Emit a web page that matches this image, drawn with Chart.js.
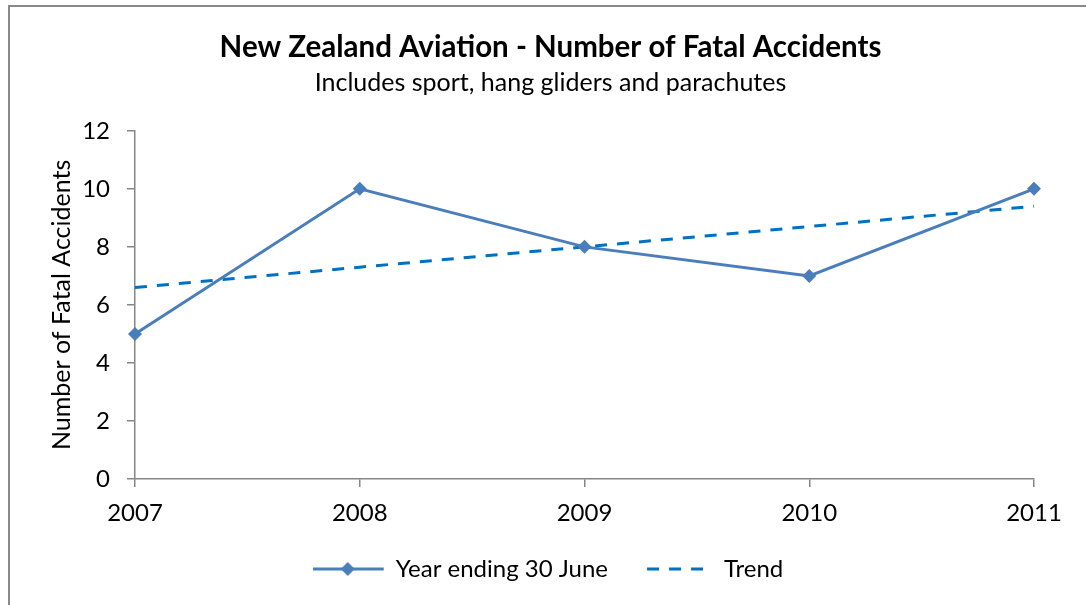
<!DOCTYPE html>
<html>
<head>
<meta charset="utf-8">
<script src="https://cdn.jsdelivr.net/npm/chart.js@4/dist/chart.umd.min.js"></script>
<style>
  html, body { margin: 0; padding: 0; background: #ffffff; }
  #wrap { width: 1086px; height: 605px; position: relative; }
</style>
</head>
<body>
<div id="wrap"><canvas id="c" width="1086" height="605"></canvas></div>
<script>
// ---- data ----
const years = ['2007', '2008', '2009', '2010', '2011'];
const fatalAccidents = [5, 10, 8, 7, 10];
const trendValues = [6.6, 7.3, 8.0, 8.7, 9.4];
const seriesNames = ['Year ending 30 June', 'Trend'];
const titleText = 'New Zealand Aviation - Number of Fatal Accidents';
const subtitleText = 'Includes sport, hang gliders and parachutes';
const yAxisTitle = 'Number of Fatal Accidents';

const FONT = 'Lato, Carlito, "Open Sans", sans-serif';
const SERIES_COLOR = '#4A7EBB';
const TREND_COLOR = '#0070C0';
const AXIS_COLOR = '#868686';

// legend swatch images
function makeLineSwatch() {
  const c = document.createElement('canvas');
  c.width = 76; c.height = 16;
  const g = c.getContext('2d');
  g.strokeStyle = SERIES_COLOR; g.lineWidth = 3;
  g.beginPath(); g.moveTo(0, 8); g.lineTo(71, 8); g.stroke();
  g.fillStyle = SERIES_COLOR;
  g.beginPath(); g.moveTo(35, 1); g.lineTo(42, 8); g.lineTo(35, 15); g.lineTo(28, 8); g.closePath(); g.fill();
  return c;
}
function makeDashSwatch() {
  const c = document.createElement('canvas');
  c.width = 76; c.height = 16;
  const g = c.getContext('2d');
  g.strokeStyle = TREND_COLOR; g.lineWidth = 3;
  g.setLineDash([12, 10]);
  g.beginPath(); g.moveTo(6, 8); g.lineTo(63, 8); g.stroke();
  return c;
}
const swatches = [makeLineSwatch(), makeDashSwatch()];
const legendGap = ['\u2002', ''];

const frame = {
  id: 'frame',
  beforeDraw(chart) {
    const ctx = chart.ctx;
    ctx.save();
    ctx.fillStyle = '#ffffff';
    ctx.fillRect(0, 0, chart.width, chart.height);
    ctx.strokeStyle = '#898989';
    ctx.lineWidth = 2;
    ctx.beginPath();
    ctx.moveTo(9, chart.height);
    ctx.lineTo(9, 6);
    ctx.lineTo(chart.width, 6);
    ctx.stroke();
    ctx.restore();
  }
};

new Chart(document.getElementById('c'), {
  type: 'line',
  data: {
    labels: years,
    datasets: [
      {
        label: seriesNames[0],
        data: fatalAccidents,
        borderColor: SERIES_COLOR,
        backgroundColor: SERIES_COLOR,
        borderWidth: 3,
        pointStyle: 'rectRot',
        pointRadius: 7,
        pointBorderWidth: 0,
        pointBackgroundColor: SERIES_COLOR,
        tension: 0,
        order: 1
      },
      {
        label: seriesNames[1],
        data: trendValues,
        borderColor: TREND_COLOR,
        backgroundColor: TREND_COLOR,
        borderWidth: 3,
        borderDash: [12, 10],
        pointRadius: 0,
        tension: 0,
        order: 2
      }
    ]
  },
  options: {
    responsive: false,
    animation: false,
    devicePixelRatio: 1,
    layout: { padding: { left: 67, right: 52, top: 0, bottom: 14 } },
    plugins: {
      title: {
        display: true,
        text: titleText,
        color: '#000000',
        font: { family: FONT, size: 29.5, weight: 'bold', lineHeight: 1.2 },
        padding: { top: 30, bottom: 2 }
      },
      subtitle: {
        display: true,
        text: subtitleText,
        color: '#000000',
        font: { family: FONT, size: 25, weight: 'normal', lineHeight: 1.2 },
        padding: { top: 0.4, bottom: 33 }
      },
      legend: {
        position: 'bottom',
        labels: {
          font: { family: FONT, size: 24 },
          color: '#000000',
          usePointStyle: true,
          pointStyleWidth: 66,
          padding: 26,
          generateLabels(chart) {
            return chart.data.datasets.map((ds, i) => ({
              text: ds.label + legendGap[i],
              pointStyle: swatches[i],
              fillStyle: ds.borderColor,
              strokeStyle: ds.borderColor,
              lineWidth: 0,
              hidden: false,
              datasetIndex: i,
              fontColor: '#000000'
            }));
          }
        }
      },
      tooltip: { enabled: false }
    },
    scales: {
      x: {
        offset: false,
        grid: { drawOnChartArea: false, drawTicks: true, tickLength: 8, color: AXIS_COLOR, lineWidth: 1.5 },
        border: { display: true, color: AXIS_COLOR, width: 1.5 },
        ticks: { color: '#000000', font: { family: FONT, size: 24 }, padding: 12, maxRotation: 0 },
        afterFit(scale) { scale.height = 52; }
      },
      y: {
        min: 0,
        max: 12,
        grid: { drawOnChartArea: false, drawTicks: true, tickLength: 8, color: AXIS_COLOR, lineWidth: 1.5 },
        border: { display: true, color: AXIS_COLOR, width: 1.5 },
        ticks: { stepSize: 2, color: '#000000', font: { family: FONT, size: 24 }, padding: 17 },
        title: {
          display: true,
          text: yAxisTitle,
          color: '#000000',
          font: { family: FONT, size: 25 },
          padding: { top: -20, bottom: 0 }
        },
        afterFit(scale) { scale.width = 68; }
      }
    }
  },
  plugins: [frame]
});
</script>
</body>
</html>
